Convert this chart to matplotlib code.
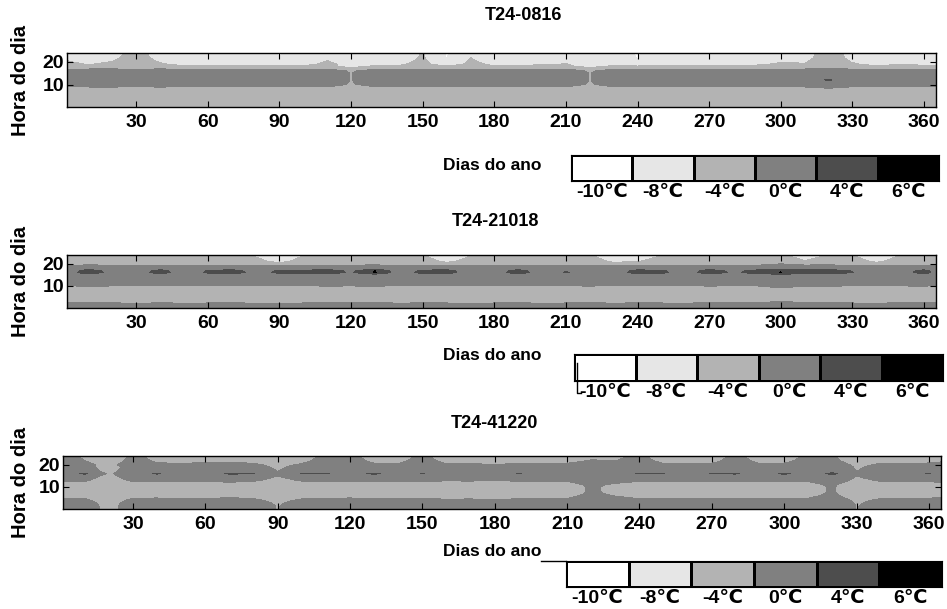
"""
Três painéis de contorno (hora do dia x dia do ano) em tons de cinza, cada um com sua barra de cores.
"""
import numpy as np
import matplotlib; matplotlib.use("Agg"); import matplotlib.pyplot as plt
from matplotlib.colors import ListedColormap

plt.rcParams['font.family'] = ['Liberation Sans', 'DejaVu Sans']
plt.rcParams['font.weight'] = 'bold'

TITLES = ["T24-0816", "T24-21018", "T24-41220"]
GRAYS = ['#ffffff', '#e6e6e6', '#b3b3b3', '#808080', '#4d4d4d', '#000000']
LEVELS = [-20, -9, -6, -2, 2, 5, 20]
CB_LABELS = ["-10℃", "-8℃", "-4℃", "0℃", "4℃", "6℃"]

HOURS = list(range(0, 25))
DAYS = [1, 10, 20, 30, 40, 50, 60, 70, 80, 90, 100, 110, 120, 130, 140, 150, 160, 170, 180,
        190, 200, 210, 220, 230, 240, 250, 260, 270, 280, 290, 300, 310, 320, 330, 340, 350, 360, 365]

# perfil médio por hora (h0..h24)
prof_1 = [-4.0, -4.0, -4.0, -4.0, -4.0, -4.0, -3.9, -3.7, -3.2, -2.3, -0.8, -0.6, -0.5,
          -0.5, -0.5, -0.5, -0.8, -2.6, -5.6, -6.8, -7.2, -7.5, -7.7, -7.8, -7.8]
prof_2 = [-1.0, -1.3, -1.9, -3.0, -3.6, -3.8, -3.8, -3.8, -3.6, -3.1, -2.3, -1.4, -0.9,
          -0.6, -0.3, 0.0, 0.3, 0.0, -0.8, -1.9, -3.0, -4.0, -4.8, -5.6, -6.3]
prof_3 = [-1.0, -1.0, -1.1, -1.3, -1.7, -2.4, -3.0, -3.4, -3.5, -3.5, -3.5, -3.3, -2.6,
          -1.8, -1.3, -0.9, -0.6, -0.9, -1.1, -1.3, -1.7, -2.4, -3.0, -3.3, -3.5]

# desvio do dia (todas as horas)
shift_1 = [0.2, 0.4, 0.5, 0.1, 0.5, 0.1, 0.2, 0.4, -0.1, 0.2, 0.1, 0.4, -1.6, 0.2, 0.1, 0.4, 0.2, 0.3, -0.2,
           0.2, 0.3, 0.4, -1.6, 0.3, 0.2, 0.3, 0.2, 0.4, 0.1, 0.2, 0.3, 0.4, 0.9, 0.3, 0.1, 0.3, 0.2, 0.3]
shift_2 = [0.2, 0.5, 0.3, 0.0, 0.3, 0.1, 0.2, 0.3, 0.1, 0.0, 0.2, 0.4, 0.3, 0.5, 0.1, 0.3, 0.2, 0.0, 0.2,
           0.3, 0.1, 0.2, 0.4, 0.1, 0.3, 0.2, 0.1, 0.4, 0.2, 0.3, 1.0, 0.4, 0.5, 0.2, 0.1, 0.3, 0.4, 0.2]
shift_3 = [0.3, 0.2, -1.8, 0.3, 0.4, 0.1, 0.2, 0.5, 0.2, -1.1, 0.1, 0.3, 0.4, 0.2, 0.1, 0.3, 0.0, 0.1, -0.2,
           0.2, 0.1, 0.2, 1.9, 0.9, 0.2, 0.1, 0.2, 0.1, 0.3, 0.1, 0.2, 0.3, 1.9, -1.1, 0.2, 0.1, 0.3, 0.6]

# desvio extra no topo (horas >= hora inicial do painel)
top_1 = [1.2, 0.3, 0.8, 2.4, 0.6, 0.0, 0.2, 0.0, 0.0, -1.5, 0.0, 1.0, 1.6, 0.0, 0.2, 1.6, -1.6, 1.4, 0.5,
         0.0, 0.3, 0.5, 1.6, 0.0, -1.6, 0.0, 0.3, 0.0, 0.2, 0.3, 0.8, 0.6, 2.0, 0.8, 0.0, 0.4, 0.2, 0.0]
top_2 = [0.0, -0.5, 0.2, 0.0, -0.3, 0.0, 0.2, 0.0, -0.4, -3.5, 0.0, 0.2, 0.0, -0.3, 0.0, 0.2, -3.2, 0.0, 0.2,
         0.0, -0.2, 0.0, 0.3, -3.0, -2.5, 0.0, 0.2, 0.0, -0.5, 0.0, 0.0, -2.0, 0.0, 0.2, -3.0, 0.0, 0.2, 0.0]
top_3 = [2.5, 0.8, 0.0, 2.2, 0.0, 0.0, 0.3, 0.0, 0.0, 0.0, 0.0, 2.0, 2.0, 0.0, 0.0, 2.0, 0.0, 0.0, 0.0,
         0.0, 0.0, 0.0, -0.8, 0.0, 2.0, 0.0, 0.0, 0.0, 2.0, 0.0, 0.0, 1.8, 0.0, 0.0, 0.0, 0.0, 0.0, 0.0]

# manchas escuras nas horas da tarde
spot_1 = [0.0] * 32 + [2.0] + [0.0] * 5
spot_2 = [0.0, 2.8, 0.5, 0.0, 2.7, 0.0, 1.9, 2.8, 0.5, 2.3, 2.2, 2.8, 1.0, 4.5, 0.0, 2.2, 2.8, 0.0, 0.0,
          2.8, 0.0, 1.7, 0.0, 0.0, 2.5, 2.2, 0.0, 2.9, 1.0, 2.4, 3.8, 2.3, 2.8, 1.6, 0.0, 0.0, 2.5, 0.5]
spot_3 = [0.0, 3.1, 0.0, 0.0, 2.7, 0.0, 0.0, 2.7, 2.6, 0.0, 2.8, 2.7, 0.0, 3.4, 0.0, 2.6, 0.0, 0.0, 0.0,
          2.7, 0.0, 0.0, 0.0, 0.0, 2.8, 2.6, 0.0, 2.8, 2.8, 0.0, 3.3, 0.0, 1.6, 0.0, 0.0, 0.0, 2.7, 0.0]

PANELS = [(prof_1, shift_1, top_1, spot_1, 19, [12]),
          (prof_2, shift_2, top_2, spot_2, 21, [16, 17]),
          (prof_3, shift_3, top_3, spot_3, 20, [16])]

W, H = 947, 609
def box(l, t, r, b): return [l / W, 1 - b / H, (r - l) / W, (b - t) / H]

AX_POS = [box(67, 53, 936, 107), box(67, 255, 936, 308), box(63, 456, 941, 509)]
CB_POS = [box(571, 155, 939, 181), box(574, 354, 943, 381), box(566, 561, 942, 587)]
TITLE_XY = [(523, 15), (495, 222), (494, 424)]
XLAB_Y = [166, 356, 552]

def field(prof, shift, top, spot, top_from, spot_rows):
    Z = np.add.outer(np.array(prof), np.array(shift))
    Z[top_from:, :] += np.array(top)
    Z[spot_rows, :] += np.array(spot)
    return Z

fig = plt.figure(figsize=(W / 100, H / 100), dpi=100)
for k, (p, s, t, sp, tf, sr) in enumerate(PANELS):
    ax = fig.add_axes(AX_POS[k])
    ax.contourf(DAYS, HOURS, field(p, s, t, sp, tf, sr), levels=LEVELS, colors=GRAYS)
    ax.set_xlim(1, 365); ax.set_ylim(0, 24)
    ax.set_xticks(range(30, 361, 30)); ax.set_yticks([10, 20])
    ax.tick_params(direction='in', top=True, right=True, length=4, width=0.8, labelsize=14, pad=5)
    ax.tick_params(axis='y', pad=2)
    for sp_ in ax.spines.values(): sp_.set_linewidth(1.0)
    l, b, w, h = AX_POS[k]
    fig.text(20 / W, b + h / 2, "Hora do dia", rotation=90, ha='center', va='center', fontsize=14.5, fontweight='bold')
    fig.text(TITLE_XY[k][0] / W, 1 - TITLE_XY[k][1] / H, TITLES[k], ha='center', va='center', fontsize=13, fontweight='bold')
    fig.text(541 / W, 1 - XLAB_Y[k] / H, "Dias do ano", ha='right', va='center', fontsize=12.5, fontweight='bold')
    cax = fig.add_axes(CB_POS[k])
    cax.pcolormesh(np.arange(7), [0, 1], np.arange(6)[None, :], cmap=ListedColormap(GRAYS),
                   vmin=-0.5, vmax=5.5, edgecolors='k', linewidth=0.8)
    cax.set_xlim(0, 6); cax.set_ylim(0, 1)
    cax.set_xticks(np.arange(6) + 0.5); cax.set_xticklabels(CB_LABELS)
    cax.set_yticks([])
    cax.tick_params(length=0, labelsize=14, pad=2)
    for sp_ in cax.spines.values(): sp_.set_linewidth(0.8)

# restos de traço que aparecem junto às barras de cores no original
fig.add_artist(plt.Line2D([577 / W, 577 / W, 581 / W], [1 - 363 / H, 1 - 393 / H, 1 - 393 / H], color='k', lw=1))
fig.add_artist(plt.Line2D([541 / W, 566 / W], [1 - 561 / H, 1 - 561 / H], color='k', lw=1))

fig.savefig("out.png", dpi=100)
